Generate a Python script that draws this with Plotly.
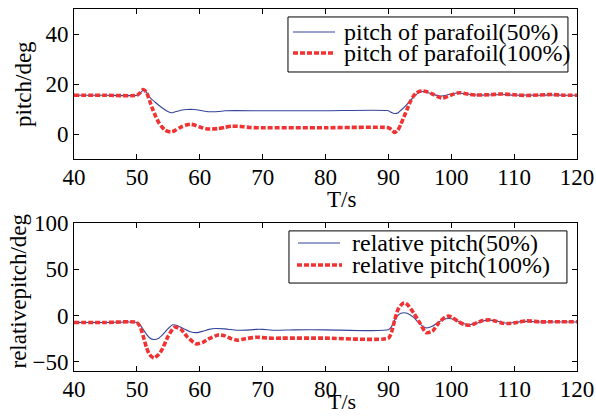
import plotly.graph_objects as go

# ---- pitch of parafoil (deg) vs time (s) ----
t_pitch50 = [40, 45, 50, 50.5, 51, 51.5, 52, 53, 54, 55, 55.5, 56, 57, 58, 59, 60, 61, 62, 63, 64,
             70, 80, 90, 90.5, 91, 91.5, 92, 93, 94, 95, 95.5, 96, 97, 98, 98.5, 99, 100, 101, 102,
             103, 104, 106, 108, 110, 112, 114, 116, 118, 120]
pitch50 = [15.5, 15.5, 15.5, 16.3, 17.5, 16.8, 14.8, 12.5, 10.5, 8.9, 8.5, 8.8, 9.5, 9.8, 9.8, 9.5,
           9.0, 8.9, 9.0, 9.3, 9.3, 9.3, 9.3, 8.6, 8.2, 8.4, 9.5, 12, 14.8, 16.8, 17, 16.8, 16, 15.3,
           15.2, 15.4, 16, 16.4, 16.2, 15.8, 15.6, 15.6, 15.8, 15.5, 15.6, 15.5, 15.6, 15.5, 15.5]

t_pitch100 = [40, 45, 50, 50.5, 51, 51.5, 52, 52.5, 53, 53.5, 54, 54.5, 55, 55.5, 56, 57, 58, 58.5,
              59, 60, 61, 62, 63, 64, 65, 66, 67, 68, 70, 80, 90, 90.5, 91, 91.5, 92, 92.5, 93,
              93.5, 94, 94.5, 95, 95.5, 96, 97, 98, 98.5, 99, 100, 101, 101.5, 102, 103, 104, 106,
              108, 110, 112, 114, 116, 118, 120]
pitch100 = [15.5, 15.5, 15.5, 16.5, 17.8, 16.8, 13.5, 10, 7, 4.5, 2.8, 1.5, 1.0, 0.9, 1.3, 2.8, 3.7,
            3.9, 3.7, 2.8, 2.1, 2.0, 2.2, 2.7, 3.1, 3.1, 2.9, 2.6, 2.5, 2.5, 2.5, 1.8, 0.6, 1.5, 4,
            7, 10, 13, 15.2, 16.5, 17.1, 17.2, 17, 16, 14.8, 14.4, 14.6, 15.6, 16.4, 16.5, 16.3,
            15.8, 15.6, 15.7, 16, 15.7, 15.4, 15.6, 15.8, 15.5, 15.5]

# ---- relative pitch (deg) vs time (s) ----
t_rel50 = [40, 45, 50, 50.5, 51, 51.5, 52, 52.7, 53.5, 54, 55, 55.7, 56.5, 57.5, 58.5, 59.5, 60.5,
           61.5, 62.5, 64, 66, 68, 69, 70, 72, 75, 80, 90, 90.5, 91, 91.5, 92, 92.5, 93, 94, 95,
           96, 97, 98, 99, 99.5, 100, 101, 102, 103, 104, 105, 106, 107, 108, 109, 110, 112, 114,
           116, 120]
rel50 = [-7.5, -7.5, -7.5, -10, -15, -20, -24, -26, -24.5, -21.5, -14, -10, -11, -14.5, -17.5,
         -18.5, -17, -15, -14, -14.5, -16, -15.5, -15, -15, -16, -15.5, -15.5, -15.5, -12, -5, 0,
         2.5, 3, 2.5, -2, -9, -13.4, -11.5, -7, -3.8, -3.2, -3.5, -6, -9, -9.7, -8.5, -6, -5,
         -5.5, -7.5, -8.3, -7.5, -6.3, -7, -7, -7]

t_rel100 = [40, 45, 50, 50.5, 51, 51.5, 52, 52.7, 53.5, 54, 55, 56, 57, 58, 59, 59.5, 60.5, 61.5,
            62.5, 63, 64, 65, 66, 67, 69, 71, 73, 80, 90, 90.5, 91, 91.5, 92, 92.5, 93, 94, 95,
            96, 97, 98, 99, 99.5, 100, 101, 102, 103, 104, 105, 106, 107, 108, 109, 110, 112, 114,
            116, 120]
rel100 = [-7.5, -7.5, -7.5, -12, -22, -34, -42, -46, -42, -37, -22, -12.6, -15, -23, -29, -30.7,
          -29, -25, -22, -21, -22, -25, -26.7, -25.5, -23.5, -24.5, -24.5, -24.5, -24.5, -18, -5,
          6, 11, 13.7, 12, 3, -8, -18.5, -17, -8, -2, -0.7, -1.5, -6, -9.5, -10.5, -8, -5.5, -4.7,
          -6, -8, -8.7, -8, -5.8, -6.8, -6.8, -6.8]

x_ticks = [40, 50, 60, 70, 80, 90, 100, 110, 120]
top_legend = ["pitch of parafoil(50%)", "pitch of parafoil(100%)"]
bottom_legend = ["relative pitch(50%)", "relative pitch(100%)"]

BLUE = "#34449c"
RED = "#f03232"
FONT = "Liberation Serif"
BLUE_LINE = dict(color=BLUE, width=1.1, shape="spline", smoothing=0.6)
RED_LINE = dict(color=RED, width=3.6, dash="5px,2px", shape="spline", smoothing=0.6)

fig = go.Figure()
fig.add_trace(go.Scatter(x=t_pitch50, y=pitch50, mode="lines", line=BLUE_LINE,
                         name=top_legend[0], xaxis="x", yaxis="y"))
fig.add_trace(go.Scatter(x=t_pitch100, y=pitch100, mode="lines", line=RED_LINE,
                         name=top_legend[1], xaxis="x", yaxis="y"))
fig.add_trace(go.Scatter(x=t_rel50, y=rel50, mode="lines", line=BLUE_LINE,
                         name=bottom_legend[0], xaxis="x2", yaxis="y2"))
fig.add_trace(go.Scatter(x=t_rel100, y=rel100, mode="lines", line=RED_LINE,
                         name=bottom_legend[1], xaxis="x2", yaxis="y2"))

axis_common = dict(showgrid=False, zeroline=False, showline=True, linecolor="black",
                   linewidth=1, mirror="ticks", ticks="inside", ticklen=5, tickcolor="black",
                   automargin=False,
                   tickfont=dict(family=FONT, size=23, color="black"))

fig.update_layout(
    width=596, height=416,
    margin=dict(l=74, r=19, t=9, b=45),
    paper_bgcolor="white", plot_bgcolor="white",
    showlegend=False,
    font=dict(family=FONT, size=23, color="black"),
    xaxis=dict(domain=[0, 1], range=[40, 120], tickvals=x_ticks, anchor="y",
               ticklabelstandoff=-3, **axis_common),
    yaxis=dict(domain=[0.5856, 1], range=[-10, 50], tickvals=[0, 20, 40], anchor="x",
               **axis_common),
    xaxis2=dict(domain=[0, 1], range=[40, 120], tickvals=x_ticks, anchor="y2",
                ticklabelstandoff=-3, **axis_common),
    yaxis2=dict(domain=[0, 0.4088], range=[-60, 100], tickvals=[-50, 0, 50, 100], anchor="x2",
                **axis_common),
)

# axis titles
title_font = dict(family=FONT, size=23, color="black")
for txt, x, y, ang, size in [("T/s", 0.5328, 0.4724, 0, 23), ("T/s", 0.5328, -0.0855, 0, 22),
                             ("pitch/deg", -0.1014, 0.7928, -90, 23),
                             ("relativepitch/deg", -0.1103, 0.221, -90, 23)]:
    fig.add_annotation(text=txt, x=x, y=y, xref="paper", yref="paper", showarrow=False,
                       xanchor="center", yanchor="middle", textangle=ang,
                       font=dict(title_font, size=size))

# legend frames
fig.add_shape(type="rect", xref="paper", yref="paper", x0=0.4254, x1=0.982, y0=0.826, y1=0.978,
              line=dict(color="black", width=1), fillcolor="white", layer="above")
fig.add_shape(type="rect", xref="paper", yref="paper", x0=0.4274, x1=0.980, y0=0.243, y1=0.387,
              line=dict(color="black", width=1), fillcolor="white", layer="above")

# legend entries: line sample + label
legend_font = dict(family=FONT, size=24, color="black")
entries = [
    (top_legend[0], BLUE_LINE, 0.4354, 0.5189, 0.9365, 0.5328),
    (top_legend[1], RED_LINE, 0.4354, 0.5189, 0.8785, 0.5328),
    (bottom_legend[0], BLUE_LINE, 0.4453, 0.5288, 0.3536, 0.5487),
    (bottom_legend[1], RED_LINE, 0.4433, 0.5328, 0.2928, 0.5487),
]
for label, style, lx0, lx1, ly, tx in entries:
    fig.add_shape(type="line", xref="paper", yref="paper", x0=lx0, x1=lx1, y0=ly, y1=ly,
                  line=dict(color=style["color"], width=style["width"],
                            dash=style.get("dash", "solid")), layer="above")
    fig.add_annotation(text=label, x=tx, y=ly, xref="paper", yref="paper", showarrow=False,
                       xanchor="left", yanchor="middle", font=legend_font)

fig.write_html("out.html")
